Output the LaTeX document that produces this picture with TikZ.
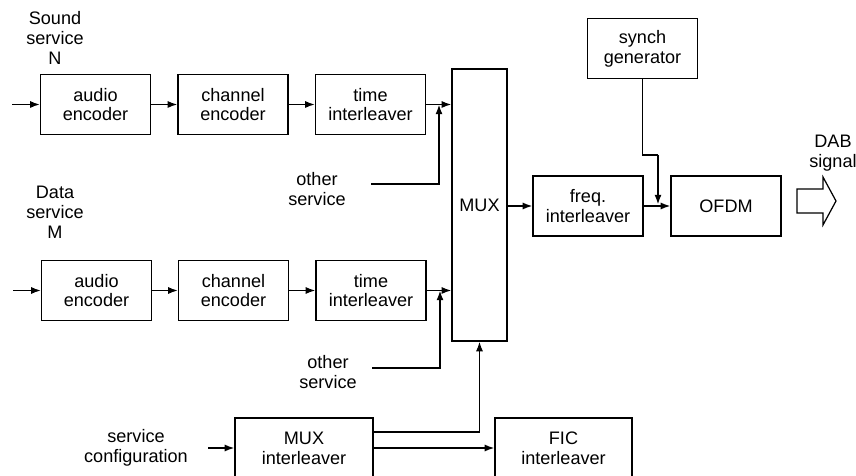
\documentclass[tikz,border=0pt]{standalone}
\usepackage{fontspec}
\setmainfont{Liberation Sans}
\usepackage{tikz}
\usetikzlibrary{arrows.meta,positioning,calc}

\tikzset{
  blockbox/.style={draw,line width=0.7pt,align=center,inner sep=1pt,
                   minimum width=2.2cm,minimum height=1.2cm},
  lbl/.style={align=center,inner sep=0pt},
  sig/.style={line width=0.9pt,-{Latex[length=5.5pt,width=4pt]}},
  wire/.style={line width=0.9pt}
}

\begin{document}
\begin{tikzpicture}[x=0.02cm,y=-0.02cm,font=\fontsize{10.3}{11.3}\selectfont]
        \useasboundingbox (0,0) rectangle (856,476);
        \clip (0,0) rectangle (856,476);

        % Sound service N
        \node[lbl] (sndN) at (55,38) {Sound\\service\\N};
        \node[blockbox] (aenc1) at (95.5,104.5) {audio\\encoder};
        \node[blockbox] (cenc1) at (233,104.5) {channel\\encoder};
        \node[blockbox] (tint1) at (370.5,104.5) {time\\interleaver};

        % Data service M
        \node[lbl] (datM) at (55,212) {Data\\service\\M};
        \node[blockbox] (aenc2) at (96.5,290.5) {audio\\encoder};
        \node[blockbox] (cenc2) at (233.5,290.5) {channel\\encoder};
        \node[blockbox] (tint2) at (371,290.5) {time\\interleaver};

        % other services
        \node[lbl] (oth1) at (317,189) {other\\service};
        \node[lbl] (oth2) at (328,372) {other\\service};

        % MUX and output chain
        \node[blockbox,minimum width=1.1cm,minimum height=5.44cm] (mux) at (479.5,205) {MUX};
        \node[blockbox] (fint) at (588,206) {freq.\\interleaver};
        \node[blockbox] (ofdm) at (726,206) {OFDM};
        \node[blockbox] (synch) at (642.5,48.5) {synch\\generator};
        \node[lbl] (dab) at (833,153) {DAB\\signal};

        % FIC branch
        \node[lbl] (svccfg) at (136,448) {service\\configuration};
        \node[blockbox,minimum width=2.76cm] (muxint) at (304,448) {MUX\\interleaver};
        \node[blockbox,minimum width=2.74cm] (ficint) at (563.5,448) {FIC\\interleaver};

        % free ends
        \coordinate (in1) at (12,104.5);
        \coordinate (in2) at (13,290.5);
        \coordinate (o1) at (371,184);
        \coordinate (j1) at (439,104.5);
        \coordinate (o2) at (372,368);
        \coordinate (j2) at (440,290.5);
        \coordinate (bend) at (658,155);
        \coordinate (cfg) at (208,448);

        % upper chain
        \draw[sig] (in1) -- (aenc1);
        \draw[sig] (aenc1) -- (cenc1);
        \draw[sig] (cenc1) -- (tint1);
        \draw[sig] (tint1.east) -- (tint1.east -| mux.west);
        \draw[sig] (o1) -| (j1);

        % lower chain
        \draw[sig] (in2) -- (aenc2);
        \draw[sig] (aenc2) -- (cenc2);
        \draw[sig] (cenc2) -- (tint2);
        \draw[sig] (tint2.east) -- (tint2.east -| mux.west);
        \draw[sig] (o2) -| (j2);

        % output
        \draw[sig] (fint.west -| mux.east) -- (fint.west);
        \draw[sig] (fint) -- (ofdm);
        \draw[wire] (synch.south) |- (bend);
        \draw[sig] (bend) -- ($(bend |- ofdm.west)+(0,-1.5)$);
        \draw[line width=0.7pt] (797,189) -- (823,189) -- (823,177) -- (836,201)
          -- (823,225) -- (823,213) -- (797,213) -- cycle;

        % configuration
        \draw[sig] (cfg) -- (muxint);
        \draw[sig] ([yshift=0.32cm]muxint.east) -| (mux.south);
        \draw[sig] (muxint) -- (ficint);
\end{tikzpicture}
\end{document}
